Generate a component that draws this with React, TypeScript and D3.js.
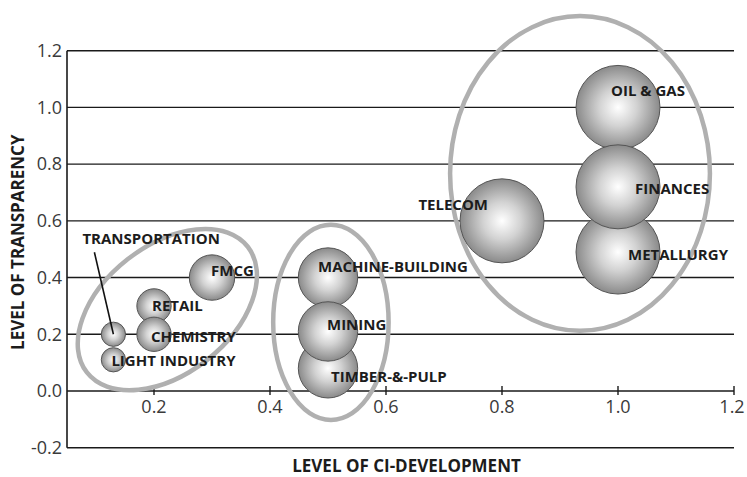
import React from "react";
import * as d3 from "d3";

// industries, drawn in this order (later ones sit on top)
const industries = [
  "LIGHT INDUSTRY",
  "TRANSPORTATION",
  "RETAIL",
  "CHEMISTRY",
  "FMCG",
  "MACHINE-BUILDING",
  "TIMBER-&-PULP",
  "MINING",
  "TELECOM",
  "METALLURGY",
  "OIL & GAS",
  "FINANCES",
];
const ciDevelopment = [0.13, 0.13, 0.2, 0.2, 0.3, 0.5, 0.5, 0.5, 0.8, 1.0, 1.0, 1.0];
const transparency = [0.11, 0.2, 0.3, 0.2, 0.4, 0.4, 0.08, 0.21, 0.6, 0.49, 1.0, 0.72];
const weight = [1, 1, 2, 2, 3.5, 6, 6, 6, 12, 12, 12, 12];

const xTicks = [0.2, 0.4, 0.6, 0.8, 1.0, 1.2];
const yTicks = [-0.2, 0, 0.2, 0.4, 0.6, 0.8, 1.0, 1.2];

// grey rings around the three groups (data units)
const clusterX = [0.223, 0.505, 0.9345];
const clusterY = [0.287, 0.242, 0.767];
const clusterRx = [0.176, 0.0995, 0.224];
const clusterRy = [0.226, 0.344, 0.555];
const clusterTilt = [-38, 0, 0];

// label placement relative to bubble centre (px)
const labelLayout: Record<string, any> = {
  "LIGHT INDUSTRY": { dx: -2, dy: 1 },
  TRANSPORTATION: { dx: -31, dy: -96, leader: [-19, -82] },
  RETAIL: { dx: -2, dy: 0 },
  CHEMISTRY: { dx: -3, dy: 2 },
  FMCG: { dx: -1, dy: -7 },
  "MACHINE-BUILDING": { dx: -10, dy: -11 },
  "TIMBER-&-PULP": { dx: 3, dy: 8 },
  MINING: { dx: -1, dy: -7 },
  TELECOM: { dx: -14, dy: -16, anchor: "end" },
  METALLURGY: { dx: 10, dy: 3 },
  "OIL & GAS": { dx: -7, dy: -17 },
  FINANCES: { dx: 17, dy: 2 },
};

export default function App() {
  const W = 747;
  const H = 477;

  const x = d3.scaleLinear().domain([0.05, 1.2]).range([67, 734]);
  const y = d3.scaleLinear().domain([-0.2, 1.2]).range([447.7, 50.7]);
  const r = d3.scaleSqrt().domain([0, 12]).range([0, 42]);

  const pxX = (v: number) => x(v) - x(0);
  const pxY = (v: number) => y(0) - y(v);

  const font = "'Open Sans', 'DejaVu Sans', sans-serif";

  return (
    <svg
      width={W}
      height={H}
      style={{ position: "absolute", left: 0, top: 0, background: "#fff" }}
    >
      <defs>
        <radialGradient id="ball" cx="50%" cy="50%" r="50%">
          <stop offset="0%" stopColor="#ffffff" />
          <stop offset="45%" stopColor="#d2d2d2" />
          <stop offset="100%" stopColor="#8a8a8a" />
        </radialGradient>
      </defs>

      {/* horizontal grid */}
      {yTicks.map((t) => (
        <line
          key={"g" + t}
          x1={x(0.05)}
          x2={x(1.2)}
          y1={y(t)}
          y2={y(t)}
          stroke="#1a1a1a"
          strokeWidth={1.4}
        />
      ))}
      {/* y axis */}
      <line x1={x(0.05)} x2={x(0.05)} y1={y(1.2)} y2={y(-0.2)} stroke="#1a1a1a" strokeWidth={1.6} />
      {yTicks.map((t) => (
        <text
          key={"yl" + t}
          x={x(0.05) - 5}
          y={y(t)}
          dy="0.35em"
          textAnchor="end"
          fontFamily={font}
          fontSize={18}
          fill="#3a3a3a"
        >
          {t.toFixed(1)}
        </text>
      ))}
      {/* x ticks on the zero line */}
      {xTicks.map((t) => (
        <g key={"xt" + t}>
          <line x1={x(t)} x2={x(t)} y1={y(0) - 5} y2={y(0) + 4} stroke="#1a1a1a" strokeWidth={1.4} />
          <text
            x={Math.min(x(t), 732)}
            y={y(0) + 22}
            textAnchor="middle"
            fontFamily={font}
            fontSize={18}
            fill="#3a3a3a"
          >
            {t.toFixed(1)}
          </text>
        </g>
      ))}

      {/* group rings */}
      {clusterX.map((cx, i) => (
        <ellipse
          key={"c" + i}
          cx={x(cx)}
          cy={y(clusterY[i])}
          rx={pxX(clusterRx[i])}
          ry={pxY(clusterRy[i])}
          fill="none"
          stroke="#b0b0b0"
          strokeWidth={4.5}
          transform={`rotate(${clusterTilt[i]}, ${x(cx)}, ${y(clusterY[i])})`}
        />
      ))}

      {/* bubbles */}
      {industries.map((name, i) => (
        <circle
          key={"b" + name}
          cx={x(ciDevelopment[i])}
          cy={y(transparency[i])}
          r={r(weight[i])}
          fill="url(#ball)"
          stroke="#555"
          strokeWidth={1}
        />
      ))}

      {/* leader lines */}
      {industries.map((name, i) => {
        const l = labelLayout[name];
        if (!l.leader) return null;
        const cx = x(ciDevelopment[i]);
        const cy = y(transparency[i]);
        return (
          <line
            key={"ld" + name}
            x1={cx + l.leader[0]}
            y1={cy + l.leader[1]}
            x2={cx}
            y2={cy}
            stroke="#111"
            strokeWidth={1.6}
          />
        );
      })}

      {/* labels */}
      {industries.map((name, i) => {
        const l = labelLayout[name];
        return (
          <text
            key={"l" + name}
            x={x(ciDevelopment[i]) + l.dx}
            y={y(transparency[i]) + l.dy}
            dy="0.36em"
            textAnchor={l.anchor || "start"}
            fontFamily={font}
            fontWeight="bold"
            fontSize={15}
            fill="#1c1c1c"
          >
            {name}
          </text>
        );
      })}

      {/* axis titles */}
      <text
        x={(x(0.05) + x(1.2)) / 2 + 6}
        y={472}
        textAnchor="middle"
        fontFamily={font}
        fontWeight="bold"
        fontSize={17}
        fill="#1c1c1c"
      >
        LEVEL OF CI-DEVELOPMENT
      </text>
      <text
        transform={`translate(24, ${(y(1.2) + y(-0.2)) / 2 - 7}) rotate(-90)`}
        textAnchor="middle"
        fontFamily={font}
        fontWeight="bold"
        fontSize={17}
        fill="#1c1c1c"
      >
        LEVEL OF TRANSPARENCY
      </text>
    </svg>
  );
}
